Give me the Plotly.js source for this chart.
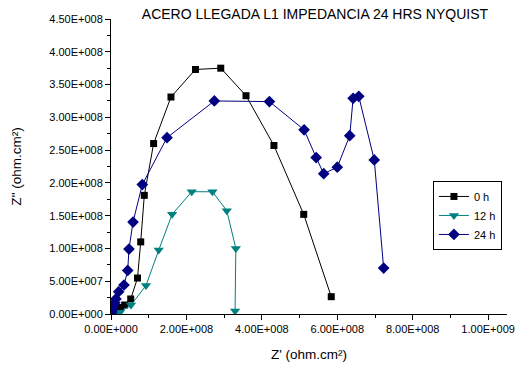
<!DOCTYPE html>
<html>
<head>
<meta charset="utf-8">
<script src="https://cdn.plot.ly/plotly-3.0.1.min.js"></script>
<style>html,body{margin:0;padding:0;background:#fff;}#chart{width:518px;height:372px;}</style>
</head>
<body>
<div id="chart"></div>
<script>
const seriesNames = ["0 h", "12 h", "24 h"];

const x0h = [0.003e8, 0.08e8, 0.15e8, 0.25e8, 0.363e8, 0.523e8, 0.703e8, 0.788e8, 0.883e8, 1.13e8, 1.59e8, 2.24e8, 2.91e8, 3.58e8, 4.32e8, 5.11e8, 5.84e8];
const y0h = [0.01e8, 0.03e8, 0.06e8, 0.10e8, 0.137e8, 0.229e8, 0.549e8, 1.10e8, 1.81e8, 2.60e8, 3.31e8, 3.73e8, 3.75e8, 3.33e8, 2.57e8, 1.52e8, 0.264e8];

const x12h = [0.05e8, 0.239e8, 0.53e8, 0.928e8, 1.265e8, 1.62e8, 2.14e8, 2.69e8, 3.07e8, 3.31e8, 3.29e8];
const y12h = [0.005e8, 0.026e8, 0.137e8, 0.435e8, 0.976e8, 1.52e8, 1.865e8, 1.865e8, 1.576e8, 1.00e8, 0.046e8];

const x24h = [0.02e8, 0.04e8, 0.06e8, 0.10e8, 0.13e8, 0.204e8, 0.345e8, 0.443e8, 0.477e8, 0.584e8, 0.83e8, 1.485e8, 2.74e8, 4.20e8, 5.12e8, 5.44e8, 5.64e8, 6.00e8, 6.33e8, 6.42e8, 6.57e8, 6.98e8, 7.23e8];
const y24h = [0.03e8, 0.07e8, 0.12e8, 0.17e8, 0.23e8, 0.34e8, 0.442e8, 0.664e8, 0.991e8, 1.403e8, 1.975e8, 2.69e8, 3.25e8, 3.24e8, 2.81e8, 2.386e8, 2.14e8, 2.24e8, 2.72e8, 3.29e8, 3.32e8, 2.35e8, 0.70e8];

const xTickVals = [0, 2e8, 4e8, 6e8, 8e8, 1e9];
const xTickText = ["0.00E+000", "2.00E+008", "4.00E+008", "6.00E+008", "8.00E+008", "1.00E+009"];
const yTickVals = [0, 0.5e8, 1e8, 1.5e8, 2e8, 2.5e8, 3e8, 3.5e8, 4e8, 4.5e8];
const yTickText = ["0.00E+000", "5.00E+007", "1.00E+008", "1.50E+008", "2.00E+008", "2.50E+008", "3.00E+008", "3.50E+008", "4.00E+008", "4.50E+008"];

const font = "Liberation Sans, Arial, sans-serif";

const traces = [
  {x: x0h, y: y0h, name: seriesNames[0], mode: "lines+markers",
   line: {color: "#000000", width: 1}, marker: {symbol: "square", size: 7, color: "#000000"}},
  {x: x12h, y: y12h, name: seriesNames[1], mode: "lines+markers",
   line: {color: "#008080", width: 1}, marker: {symbol: "triangle-down", size: 9, color: "#008080"}},
  {x: x24h, y: y24h, name: seriesNames[2], mode: "lines+markers",
   line: {color: "#000080", width: 1}, marker: {symbol: "diamond", size: 9, color: "#000080"}}
];

const layout = {
  width: 518, height: 372,
  margin: {l: 111, r: 11, t: 19, b: 58},
  paper_bgcolor: "#ffffff", plot_bgcolor: "#ffffff",
  font: {family: font, size: 11, color: "#000000"},
  title: {text: "ACERO LLEGADA L1 IMPEDANCIA 24 HRS NYQUIST", font: {family: font, size: 14, color: "#000000"},
          x: 0.515, xanchor: "center", xref: "paper", y: 0.962, yanchor: "middle", yref: "container"},
  xaxis: {
    range: [0, 1.05e9], showgrid: false, zeroline: false,
    showline: true, linecolor: "#000000", linewidth: 1,
    ticks: "outside", ticklen: 5, tickcolor: "#000000", tickwidth: 1,
    tickvals: xTickVals, ticktext: xTickText,
    minor: {ticks: "outside", ticklen: 3, dtick: 1e8, tick0: 0, tickcolor: "#000000", showgrid: false},
    tickfont: {family: font, size: 11, color: "#000000"},
    title: {text: "Z' (ohm.cm²)", font: {family: font, size: 13.5, color: "#000000"}, standoff: 15}
  },
  yaxis: {
    range: [0, 4.5e8], showgrid: false, zeroline: false,
    showline: true, linecolor: "#000000", linewidth: 1,
    ticks: "outside", ticklen: 5, tickcolor: "#000000", tickwidth: 1,
    tickvals: yTickVals, ticktext: yTickText,
    minor: {ticks: "outside", ticklen: 3, dtick: 0.25e8, tick0: 0, tickcolor: "#000000", showgrid: false},
    tickfont: {family: font, size: 11, color: "#000000"},
    title: {text: "Z'' (ohm.cm²)", font: {family: font, size: 13.5, color: "#000000"}, standoff: 24}
  },
  showlegend: true,
  legend: {x: 0.813, y: 0.451, xanchor: "left", yanchor: "top",
           bordercolor: "#000000", borderwidth: 1, bgcolor: "#ffffff",
           font: {family: font, size: 11, color: "#000000"},
           itemwidth: 30, tracegroupgap: 0}
};

Plotly.newPlot("chart", traces, layout, {displayModeBar: false, staticPlot: true});
</script>
</body>
</html>
